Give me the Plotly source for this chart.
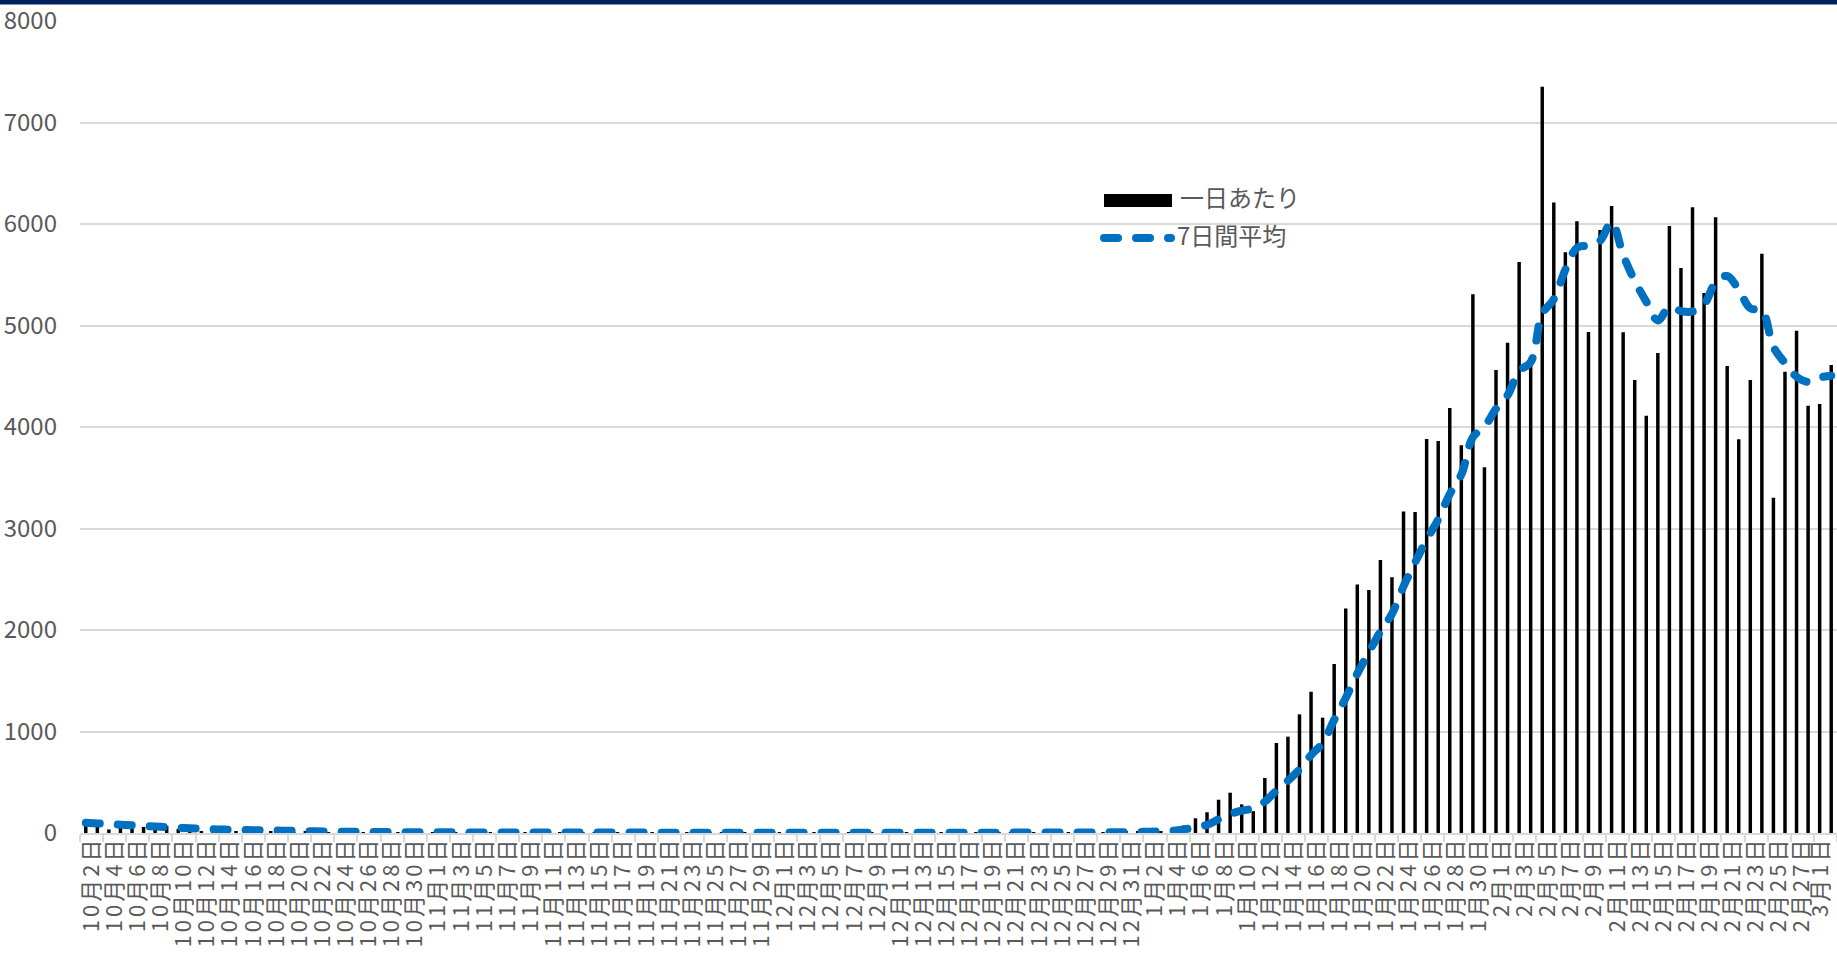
import pandas as pd
import plotly.graph_objects as go

# Daily counts, 2021-10-02 .. 2022-03-02
dates = pd.date_range("2021-10-02", "2022-03-02", freq="D")
date_labels = [f"{d.month}月{d.day}日" for d in dates]

daily_oct = [92, 86, 35, 78, 82, 60, 48, 70, 40, 22, 20, 18, 16, 15, 14,
             12, 10, 9, 8, 10, 9, 7, 6, 8, 5, 4, 6, 7, 9, 5]
daily_nov = [4, 6, 3, 5, 7, 4, 2, 5, 6, 8, 4, 3, 5, 2, 4,
             6, 3, 5, 4, 2, 3, 5, 2, 4, 3, 6, 2, 3, 4, 5]
daily_dec = [3, 5, 2, 4, 3, 2, 4, 3, 5, 2, 3, 4, 2, 3, 5, 4,
             3, 2, 4, 5, 3, 6, 4, 5, 7, 6, 8, 7, 9, 8, 10]
daily_jan = [12, 15, 18, 30, 74, 145, 204, 328, 397, 282, 215, 542, 887, 949, 1169,
             1392, 1136, 1665, 2212, 2448, 2394, 2690, 2520, 3167, 3163, 3882, 3862,
             4188, 3819, 5307, 3603]
daily_feb = [4562, 4831, 5626, 4611, 7353, 6213, 5721, 6026, 4936, 5941, 6177, 4933,
             4463, 4111, 4729, 5980, 5567, 6164, 5320, 6066, 4601, 3879, 4463, 5708,
             3304, 4545, 4949, 4210]
daily_mar = [4227, 4611]

avg_oct = [100, 94, 88, 82, 76, 70, 64, 58, 52, 46, 41, 37, 34, 31, 29,
           27, 25, 23, 21, 19, 17, 15, 13, 12, 11, 10, 9, 9, 8, 8]
avg_nov = [7, 7, 6, 6, 6, 5, 5, 5, 5, 5, 5, 5, 4, 4, 4,
           4, 4, 4, 4, 4, 3, 3, 3, 3, 3, 3, 3, 3, 3, 3]
avg_dec = [3, 3, 3, 3, 3, 3, 3, 3, 3, 3, 3, 3, 3, 3, 3, 3,
           3, 3, 3, 3, 4, 4, 4, 4, 5, 5, 5, 6, 6, 7, 7]
avg_jan = [10, 13, 16, 22, 36, 55, 80, 135, 187, 220, 243, 309, 417, 516, 627,
           768, 885, 1115, 1330, 1570, 1780, 1985, 2160, 2430, 2665, 2890, 3090,
           3340, 3530, 3900, 4000]
avg_feb = [4180, 4312, 4550, 4640, 5115, 5258, 5550, 5765, 5788, 5835, 6020, 5695,
           5440, 5235, 5050, 5182, 5142, 5138, 5205, 5426, 5488, 5350, 5170, 5150,
           4790, 4630, 4496, 4444]
avg_mar = [4488, 4505]

daily = daily_oct + daily_nov + daily_dec + daily_jan + daily_feb + daily_mar
avg7 = avg_oct + avg_nov + avg_dec + avg_jan + avg_feb + avg_mar
idx = list(range(len(dates)))

y_ticks = list(range(0, 8001, 1000))

GRAY = "#595959"
GRID = "#d9d9d9"
FONT = "Noto Sans CJK JP"

# plot-area geometry in pixels
L, T, R, B = 80, 21, 1837, 833
W, H = R - L, B - T


def px(p):
    return (p - L) / W


def py(p):
    return (B - p) / H


# one label per two days, centred on each pair; keep the last one inside the page
label_pos = [i + 0.5 for i in range(0, len(dates), 2)]
label_pos[-1] = min(label_pos[-1], len(dates) - 1.9)

fig = go.Figure()
fig.add_trace(go.Bar(x=idx, y=daily, marker=dict(color="black", line=dict(width=0)),
                     name="一日あたり"))
fig.add_trace(go.Scatter(x=idx, y=avg7, mode="lines", name="7日間平均",
                         line=dict(color="#0070C0", width=8, dash="14px,18px",
                                   shape="spline", smoothing=1)))

fig.update_layout(
    width=1837, height=953,
    margin=dict(l=L, r=1837 - R, t=T, b=953 - B, autoexpand=False),
    paper_bgcolor="white", plot_bgcolor="white",
    showlegend=False, bargap=0.7,
    font=dict(family=FONT, color=GRAY),
    xaxis=dict(
        range=[-0.5, len(dates) - 0.5],
        tickmode="array",
        tickvals=label_pos,
        ticktext=date_labels[::2],
        tickangle=-90, ticks="", showgrid=False, zeroline=False,
        showline=True, linecolor=GRID, linewidth=1.5,
        tickfont=dict(size=22, color=GRAY, family=FONT),
        ticklabelstandoff=-7,
        ticklabeloverflow="allow",
        minor=dict(ticks="outside", tick0=-0.5, dtick=2, ticklen=7,
                   tickcolor=GRID, tickwidth=1.5, showgrid=False),
    ),
    yaxis=dict(
        range=[0, 8000], tickmode="array", tickvals=y_ticks,
        ticktext=[str(v) for v in y_ticks],
        showgrid=True, gridcolor=GRID, gridwidth=1.5, zeroline=False,
        showline=False, ticks="",
        tickfont=dict(size=24, color=GRAY, family=FONT),
        ticklabelstandoff=22,
    ),
)

# dark band across the top edge
fig.add_shape(type="rect", xref="paper", yref="paper",
              x0=px(0), x1=px(1837), y0=py(4.5), y1=py(0),
              fillcolor="#002060", line=dict(width=0), layer="above")

# legend
fig.add_shape(type="rect", xref="paper", yref="paper",
              x0=px(1104), x1=px(1172), y0=py(207), y1=py(194),
              fillcolor="black", line=dict(width=0))
fig.add_shape(type="line", xref="paper", yref="paper",
              x0=px(1104), x1=px(1171), y0=py(238), y1=py(238),
              line=dict(color="#0070C0", width=8, dash="14px,18px"))
fig.add_annotation(xref="paper", yref="paper", x=px(1178), y=py(197),
                   text="一日あたり", showarrow=False, xanchor="left", yanchor="middle",
                   font=dict(size=24, color=GRAY, family=FONT))
fig.add_annotation(xref="paper", yref="paper", x=px(1175), y=py(234),
                   text="7日間平均", showarrow=False, xanchor="left", yanchor="middle",
                   font=dict(size=24, color=GRAY, family=FONT))

post = """
var st = document.createElement('style');
st.textContent = '.scatterlayer .js-line, .shapelayer path {stroke-linecap: round !important;}'
  + ' .xtick text {letter-spacing: 3px;}';
document.head.appendChild(st);
"""
fig.write_html("out.html", post_script=post)
